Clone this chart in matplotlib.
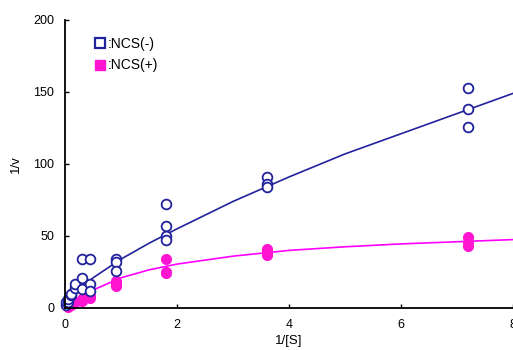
import matplotlib
matplotlib.use("Agg")
import matplotlib.pyplot as plt
from matplotlib.lines import Line2D

plt.rcParams['font.family'] = ['Liberation Sans', 'DejaVu Sans']

# Lineweaver-Burk data, 1/[S] vs 1/v
inv_s_minus = [0.02, 0.02, 0.05, 0.05, 0.1, 0.1, 0.17, 0.17, 0.3, 0.3, 0.3,
               0.45, 0.45, 0.45, 0.9, 0.9, 0.9, 1.8, 1.8, 1.8, 1.8,
               3.6, 3.6, 3.6, 7.2, 7.2, 7.2]
inv_v_minus = [2, 4, 4, 6, 9, 10, 14, 17, 34, 21, 13,
               34, 17, 12, 34, 32, 26, 72, 57, 50, 47,
               91, 86, 84, 153, 138, 126]

inv_s_plus = [0.05, 0.1, 0.17, 0.3, 0.3, 0.45, 0.45, 0.9, 0.9, 0.9,
              1.8, 1.8, 1.8, 3.6, 3.6, 3.6, 7.2, 7.2, 7.2]
inv_v_plus = [1, 2, 4, 6, 5, 8, 7, 19, 17, 15,
              34, 25, 24, 41, 39, 37, 49, 46, 43]

# fitted curves
curve_x = [0, 0.1, 0.25, 0.5, 1, 1.5, 2, 3, 4, 5, 6, 7, 8]
curve_minus = [0, 7, 13, 21, 34, 45, 55, 74, 91, 107, 121, 135, 149]
curve_plus = [0, 3, 7, 12.5, 21, 26.5, 30.5, 36, 40, 42.5, 44.5, 46, 47.5]

blue = '#22229c'
pink_line = '#ff00ff'
pink_dot = '#ff14d2'

fig = plt.figure(figsize=(5.13, 3.5), dpi=100)
ax = fig.add_axes([0.127, 0.12, 0.873, 0.823])

ax.plot(curve_x, curve_minus, color=blue, lw=1.2)
ax.plot(curve_x, curve_plus, color=pink_line, lw=1.2)
ax.plot(inv_s_plus, inv_v_plus, 'o', color=pink_dot, ms=7, mec=pink_dot,
        clip_on=False)
ax.plot(inv_s_minus, inv_v_minus, 'o', mfc='white', mec=blue, mew=1.3,
        ms=7, clip_on=False)

ax.set_xlim(0, 8)
ax.set_ylim(0, 200)
ax.set_xticks([0, 2, 4, 6, 8])
ax.set_yticks([0, 50, 100, 150, 200])
ax.tick_params(direction='in', length=3, width=1, labelsize=9, pad=8)
for s in ['top', 'right']:
    ax.spines[s].set_visible(False)
ax.spines['left'].set_linewidth(1.3)
ax.spines['bottom'].set_linewidth(1.3)

ax.set_xlabel('1/[S]', fontsize=9.5, labelpad=3)
ax.set_ylabel('1/v', fontsize=9.5, labelpad=8)

handles = [
    Line2D([], [], marker='s', ls='', mfc='white', mec=blue, mew=1.6, ms=6.5),
    Line2D([], [], marker='s', ls='', mfc=pink_dot, mec=pink_dot, ms=7),
]
ax.legend(handles, [':NCS(-)', ':NCS(+)'], loc='upper left',
          bbox_to_anchor=(0.04, 0.985), frameon=False, fontsize=10,
          handlelength=0.6, handletextpad=0.3, labelspacing=0.55)

fig.savefig('out.png', dpi=100)
